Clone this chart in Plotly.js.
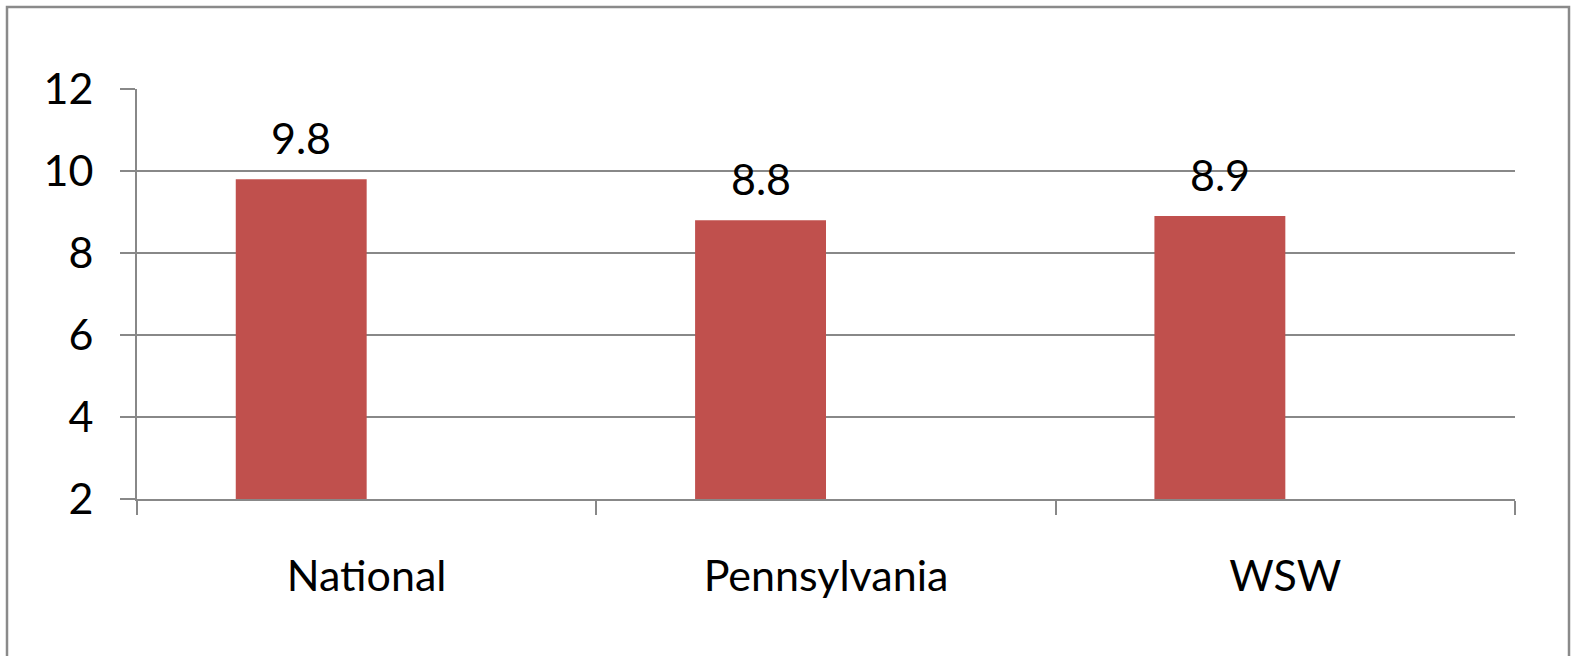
<!DOCTYPE html>
<html>
<head>
<meta charset="utf-8">
<script src="https://cdn.plot.ly/plotly-3.0.1.min.js"></script>
<style>
  html, body { margin: 0; padding: 0; background: #ffffff; }
  #chart { width: 1571px; height: 656px; }
</style>
</head>
<body>
<div id="chart"></div>
<script>
// Data
const categories = ["National", "Pennsylvania", "WSW"];
const values = [9.8, 8.8, 8.9];
const valueLabels = ["9.8", "8.8", "8.9"];
const yTicks = [2, 4, 6, 8, 10, 12];

const FONT = "Lato, 'Open Sans', sans-serif";
const GRAY = "#888888";
const BAR_W = 0.285;

const trace = {
  type: "bar",
  x: categories,
  y: values,
  width: BAR_W,
  offset: -BAR_W,
  marker: { color: "#C0504D", line: { width: 0 } },
  hoverinfo: "skip",
  showlegend: false
};

const annotations = categories.map((c, i) => ({
  x: i - BAR_W / 2,
  y: values[i],
  xref: "x",
  yref: "y",
  text: valueLabels[i],
  showarrow: false,
  yanchor: "bottom",
  yshift: 14,
  font: { family: FONT, size: 43, color: "#000000" }
}));

const layout = {
  width: 1571,
  height: 656,
  margin: { l: 137, r: 56, t: 89, b: 157 },
  paper_bgcolor: "#ffffff",
  plot_bgcolor: "#ffffff",
  font: { family: FONT, size: 43, color: "#000000" },
  xaxis: {
    type: "category",
    range: [-0.5, 2.5],
    showgrid: false,
    showline: true,
    linecolor: GRAY,
    linewidth: 2,
    ticks: "outside",
    tickson: "boundaries",
    ticklen: 14,
    tickwidth: 2,
    tickcolor: GRAY,
    ticklabelstandoff: 38,
    tickfont: { family: FONT, size: 43, color: "#000000" },
    zeroline: false
  },
  yaxis: {
    range: [2, 12],
    tickvals: yTicks,
    ticktext: yTicks.map(String),
    showgrid: true,
    gridcolor: GRAY,
    gridwidth: 2,
    showline: true,
    linecolor: GRAY,
    linewidth: 2,
    ticks: "outside",
    ticklen: 15,
    tickwidth: 2,
    tickcolor: GRAY,
    ticklabelstandoff: 18,
    tickfont: { family: FONT, size: 43, color: "#000000" },
    zeroline: false
  },
  annotations: annotations,
  shapes: [{
    type: "rect",
    xref: "paper",
    yref: "paper",
    x0: (7 - 137) / 1378,
    x1: (1569 - 137) / 1378,
    y0: (499 - 680) / 410,
    y1: (499 - 7) / 410,
    line: { color: "#8a8a8a", width: 2.5 },
    fillcolor: "rgba(0,0,0,0)",
    layer: "above"
  }]
};

Plotly.newPlot("chart", [trace], layout, { displayModeBar: false, staticPlot: true });
</script>
</body>
</html>
